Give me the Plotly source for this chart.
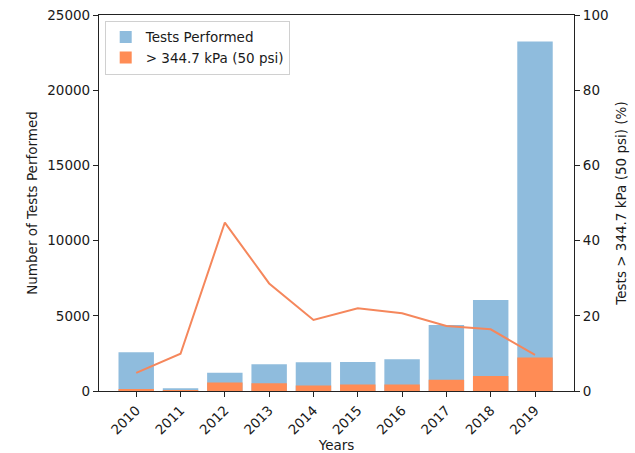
import plotly.graph_objects as go

# Yearly test counts and share of tests above 344.7 kPa
years = ["2010", "2011", "2012", "2013", "2014", "2015", "2016", "2017", "2018", "2019"]
tests_performed = [2580, 180, 1220, 1780, 1910, 1930, 2110, 4390, 6050, 23230]
tests_over_limit = [125, 18, 560, 510, 370, 430, 440, 750, 995, 2220]
pct_over_limit = [4.8, 9.9, 44.8, 28.6, 18.9, 22.0, 20.7, 17.3, 16.4, 9.6]

count_ticks = [0, 5000, 10000, 15000, 20000, 25000]
pct_ticks = [0, 20, 40, 60, 80, 100]

BLUE = "#8fbcdd"
ORANGE = "#ff8c55"
LINE = "#f5875c"
FONT = "DejaVu Sans"
FS = 13.5

fig = go.Figure()
fig.add_trace(go.Bar(x=years, y=tests_performed, name="Tests Performed",
                     marker=dict(color=BLUE, line=dict(width=0)), width=0.8))
fig.add_trace(go.Bar(x=years, y=tests_over_limit, name="> 344.7 kPa (50 psi)",
                     marker=dict(color=ORANGE, line=dict(width=0)), width=0.8))
fig.add_trace(go.Scatter(x=years, y=pct_over_limit, yaxis="y2", mode="lines",
                         line=dict(color=LINE, width=2), showlegend=False))

axis_common = dict(showline=True, linecolor="#222222", linewidth=1.2, ticks="outside",
                   ticklen=5, tickcolor="#222222", showgrid=False, zeroline=False,
                   automargin=False,
                   tickfont=dict(family=FONT, size=FS, color="#1a1a1a"))

fig.update_layout(
    width=635, height=453,
    margin=dict(l=99, r=61, t=15, b=62),
    paper_bgcolor="white", plot_bgcolor="white",
    barmode="overlay",
    font=dict(family=FONT, size=FS, color="#1a1a1a"),
    xaxis=dict(**axis_common, mirror=True, tickangle=-45, range=[-0.84, 9.88],
               title=dict(text="Years", standoff=2, font=dict(family=FONT, size=FS))),
    yaxis=dict(**axis_common, range=[0, 25000], tickvals=count_ticks,
               ticktext=[str(v) for v in count_ticks],
               title=dict(text="Number of Tests Performed", standoff=6,
                          font=dict(family=FONT, size=FS))),
    yaxis2=dict(**axis_common, overlaying="y", side="right", range=[0, 100],
                tickvals=pct_ticks, ticktext=[str(v) for v in pct_ticks],
                title=dict(text="Tests > 344.7 kPa (50 psi) (%)", standoff=8,
                           font=dict(family=FONT, size=FS))),
    legend=dict(x=0.012, y=0.985, xanchor="left", yanchor="top",
                bgcolor="white", bordercolor="#d0d0d0", borderwidth=1,
                font=dict(family=FONT, size=FS), traceorder="normal"),
)

fig.write_html("out.html")
